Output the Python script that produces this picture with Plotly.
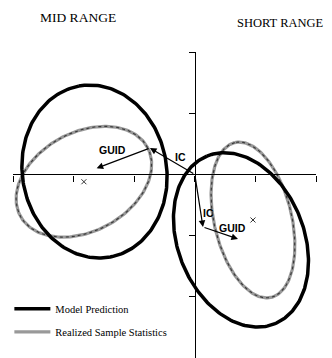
import numpy as np
import plotly.graph_objects as go

# ellipse parameters: mid range (left) and short range (right)
RANGES = ["MID RANGE", "SHORT RANGE"]

model_cx = [-1.655, 0.762]
model_cy = [0.047, -1.07]
model_a = [1.42, 1.48]
model_b = [1.19, 1.04]
model_angle = [100.6, 112.3]

real_cx = [-1.83, 0.96]
real_cy = [-0.12, -0.745]
real_a = [1.19, 1.30]
real_b = [0.81, 0.64]
real_angle = [27.7, 103.4]

# IC then GUID arrows, starting at the origin
ic_end_x = [-0.74, 0.135]
ic_end_y = [0.43, -0.86]
guid_end_x = [-1.62, 0.713]
guid_end_y = [0.10, -1.055]

AXIS_TICKS = [-3, -2, -1, 0, 1, 2]

SERIF = "Liberation Serif"
SANS = "Liberation Sans"


def ellipse(cx, cy, a, b, angle):
    t = np.linspace(0, 2 * np.pi, 241)
    th = np.radians(angle)
    x = cx + a * np.cos(t) * np.cos(th) - b * np.sin(t) * np.sin(th)
    y = cy + a * np.cos(t) * np.sin(th) + b * np.sin(t) * np.cos(th)
    return x, y


fig = go.Figure()

for i in range(2):
    x, y = ellipse(real_cx[i], real_cy[i], real_a[i], real_b[i], real_angle[i])
    fig.add_trace(go.Scatter(
        x=x, y=y, mode="lines", line=dict(color="#999999", width=3.2),
        name="Realized Sample Statistics", legendgroup="real", legendrank=2,
        showlegend=(i == 0), hoverinfo="skip",
    ))
    fig.add_trace(go.Scatter(
        x=x, y=y, mode="lines", line=dict(color="#3a3a3a", width=1.2, dash="dot"),
        showlegend=False, hoverinfo="skip",
    ))

for i in range(2):
    x, y = ellipse(model_cx[i], model_cy[i], model_a[i], model_b[i], model_angle[i])
    fig.add_trace(go.Scatter(
        x=x, y=y, mode="lines", line=dict(color="black", width=3.5),
        name="Model Prediction", legendgroup="model", legendrank=1,
        showlegend=(i == 0), hoverinfo="skip",
    ))

# sample means
fig.add_trace(go.Scatter(
    x=real_cx, y=real_cy, mode="markers",
    marker=dict(symbol="x-thin", size=5, line=dict(width=1, color="#333")),
    showlegend=False, hoverinfo="skip",
))

arrow = dict(showarrow=True, arrowhead=2, arrowsize=1.1, arrowwidth=1.2,
             arrowcolor="black", axref="x", ayref="y", text="", standoff=0)
for i in range(2):
    fig.add_annotation(x=ic_end_x[i], y=ic_end_y[i], ax=0, ay=0, **arrow)
    fig.add_annotation(x=guid_end_x[i], y=guid_end_y[i],
                       ax=ic_end_x[i], ay=ic_end_y[i], **arrow)

labels = [("GUID", -1.366, 0.40), ("IC", -0.244, 0.284),
          ("IC", 0.218, -0.63), ("GUID", 0.63, -0.876)]
for txt, lx, ly in labels:
    fig.add_annotation(x=lx, y=ly, text="<b>%s</b>" % txt, showarrow=False,
                       xanchor="center", yanchor="middle",
                       font=dict(family=SANS, size=10.5, color="black"))

fig.add_annotation(xref="paper", yref="paper", x=0.2145, y=1.114,
                   xanchor="center", yanchor="middle",
                   text=RANGES[0], showarrow=False,
                   font=dict(family=SERIF, size=13.5, color="black"))
fig.add_annotation(xref="paper", yref="paper", x=0.882, y=1.095,
                   xanchor="center", yanchor="middle",
                   text=RANGES[1], showarrow=False,
                   font=dict(family=SERIF, size=12.5, color="black"))

axis_common = dict(
    tickvals=AXIS_TICKS, showticklabels=False, ticks="outside", ticklen=6,
    tickwidth=1.2, tickcolor="black", showline=True, linecolor="black",
    linewidth=1.2, showgrid=False, zeroline=False, range=[-3, 2],
    anchor="free", position=0.6,
)

# page body keeps its default 8px margin, so the figure is 8px smaller
fig.update_layout(
    width=324, height=350,
    margin=dict(l=5, r=16, t=44, b=0, pad=0),
    paper_bgcolor="white", plot_bgcolor="white",
    xaxis=axis_common,
    yaxis=axis_common,
    showlegend=True,
    legend=dict(
        x=-0.012, y=0.208, xanchor="left", yanchor="top",
        traceorder="grouped", itemwidth=36, tracegroupgap=4,
        font=dict(family=SERIF, size=10.5, color="black"),
        bgcolor="rgba(0,0,0,0)",
    ),
)

fig.write_html("out.html")
